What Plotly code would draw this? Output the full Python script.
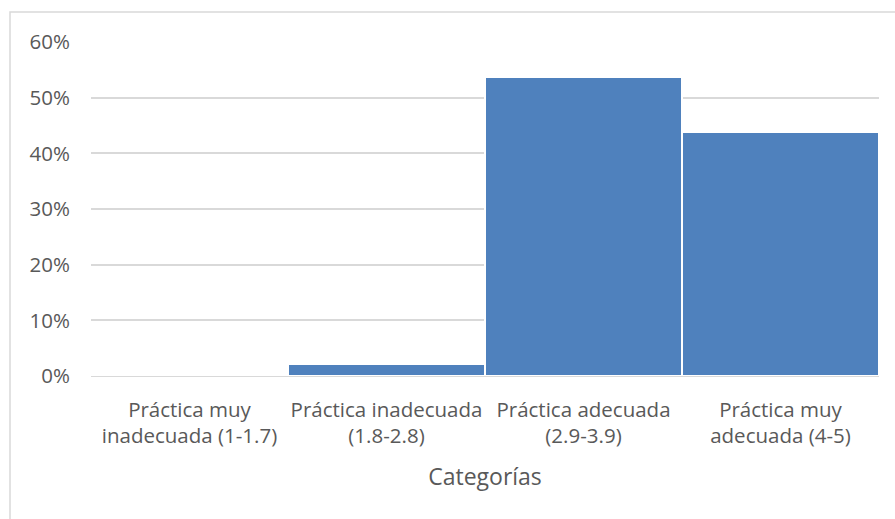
import plotly.graph_objects as go

categories = ["Práctica muy<br>inadecuada (1-1.7)", "Práctica inadecuada<br>(1.8-2.8)",
              "Práctica adecuada<br>(2.9-3.9)", "Práctica muy<br>adecuada (4-5)"]
values = [0.0, 0.022, 0.537, 0.438]
y_ticks = [0, 0.1, 0.2, 0.3, 0.4, 0.5, 0.6]
x_title = "Categorías"

FONT = "Open Sans"
GRAY = "#595959"

fig = go.Figure(go.Bar(
    x=categories, y=values,
    marker=dict(color="#4f81bd", line=dict(color="white", width=2)),
    width=1.0,
))

W, H = 895, 519
L, R, T, B = 91, 16, 42, 143
pw = W - L - R
ph = H - T - B

fig.update_layout(
    width=W, height=H,
    margin=dict(l=L, r=R, t=T, b=B),
    paper_bgcolor="white", plot_bgcolor="white",
    bargap=0,
    showlegend=False,
    font=dict(family=FONT, color=GRAY, size=21),
    xaxis=dict(
        showgrid=False, showline=False, zeroline=False,
        tickfont=dict(size=20.5, color=GRAY, family=FONT),
        ticklabelstandoff=19,
        title=dict(text=x_title, font=dict(size=23, color=GRAY, family=FONT), standoff=20),
        range=[-0.5, 3.5],
    ),
    yaxis=dict(
        range=[0, 0.6], tickvals=y_ticks, tickformat=".0%",
        showgrid=True, gridcolor="#d9d9d9", gridwidth=1.5,
        zeroline=True, zerolinecolor="#d9d9d9", zerolinewidth=1.5,
        showline=False,
        tickfont=dict(size=20.5, color=GRAY, family=FONT),
        ticklabelstandoff=20,
    ),
    shapes=[dict(
        type="rect", xref="paper", yref="paper",
        x0=(10 - L) / pw, x1=1.2, y0=-0.6, y1=(H - B - 12) / ph,
        line=dict(color="#d9d9d9", width=1.5), fillcolor="rgba(0,0,0,0)", layer="below",
    )],
)

fig.write_html("out.html")
